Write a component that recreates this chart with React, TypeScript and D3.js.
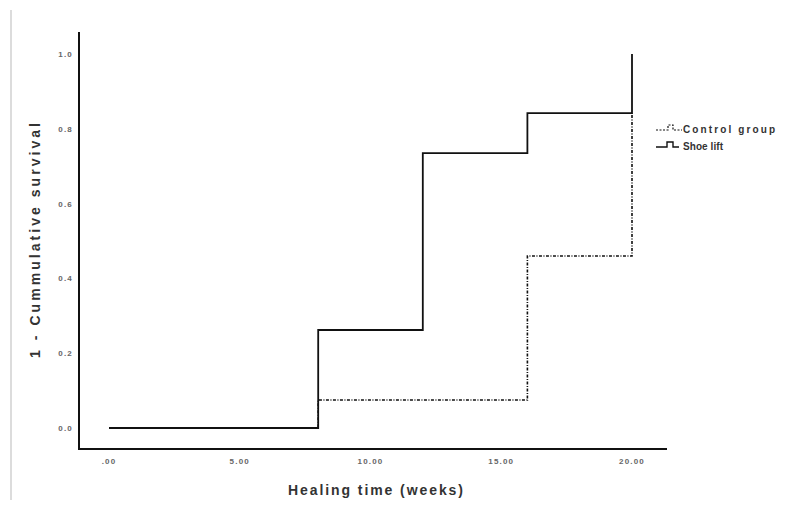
import React from "react";
import * as d3 from "d3";

// healing time in weeks at which each step happens
const shoeTimes = [0, 8, 12, 16, 20];
const shoeValues = [0, 0.262, 0.735, 0.842, 1.0];
const controlTimes = [0, 8, 16, 20];
const controlValues = [0, 0.075, 0.46, 0.842];

const xTicks = [0, 5, 10, 15, 20];
const xTickLabels = [".00", "5.00", "10.00", "15.00", "20.00"];
const yTicks = [0, 0.2, 0.4, 0.6, 0.8, 1.0];
const yTickLabels = ["0.0", "0.2", "0.4", "0.6", "0.8", "1.0"];
const legendLabels = ["Control group", "Shoe lift"];
const legendWidths = [92, 40];

export default function App() {
  const width = 788;
  const height = 505;

  const x = d3.scaleLinear().domain([0, 20]).range([109, 632]);
  const y = d3.scaleLinear().domain([0, 1]).range([428, 54]);

  const line = d3
    .line<[number, number]>()
    .x((d) => x(d[0]))
    .y((d) => y(d[1]))
    .curve(d3.curveStepAfter);

  const shoe = shoeTimes.map((t, i) => [t, shoeValues[i]] as [number, number]);
  const control = controlTimes.map((t, i) => [t, controlValues[i]] as [number, number]);

  const font = "Arial, 'Liberation Sans', sans-serif";

  return (
    <svg
      width={width}
      height={height}
      style={{ position: "absolute", left: 0, top: 0, background: "#fff" }}
      fontFamily={font}
    >
      <line x1={11} x2={11} y1={10} y2={500} stroke="#d0d0d0" strokeWidth={1.5} />

      {/* axes */}
      <path d="M79,32 V449 H667" fill="none" stroke="#111" strokeWidth={2} />

      {yTicks.map((t, i) => (
        <text
          key={"y" + i}
          x={73}
          y={y(t) + 3}
          textAnchor="end"
          fontSize={8}
          fontWeight="bold"
          fill="#666"
          letterSpacing={1.2}
        >
          {yTickLabels[i]}
        </text>
      ))}
      {xTicks.map((t, i) => (
        <text
          key={"x" + i}
          x={x(t)}
          y={464}
          textAnchor="middle"
          fontSize={8}
          fontWeight="bold"
          fill="#666"
          letterSpacing={1.2}
        >
          {xTickLabels[i]}
        </text>
      ))}

      <text
        x={288}
        y={495}
        fontSize={14}
        fontWeight="bold"
        fill="#333"
        textLength={175}
        lengthAdjust="spacing"
      >
        Healing time (weeks)
      </text>
      <text
        transform="translate(40,358) rotate(-90)"
        fontSize={14}
        fontWeight="bold"
        fill="#333"
        textLength={235}
        lengthAdjust="spacing"
      >
        1 - Cummulative survival
      </text>

      <path
        d={line(control) ?? ""}
        fill="none"
        stroke="#111"
        strokeWidth={1.6}
        strokeDasharray="3 1.5 1 1.5"
      />
      <path d={line(shoe) ?? ""} fill="none" stroke="#111" strokeWidth={1.8} />

      {/* legend */}
      <g>
        <path
          d="M656,130 H668 V125 H673 V130 H682"
          fill="none"
          stroke="#111"
          strokeWidth={1.2}
          strokeDasharray="2 1.5"
        />
        <path d="M656,147 H667 V142 H673 V147 H679" fill="none" stroke="#111" strokeWidth={1.4} />
        {legendLabels.map((l, i) => (
          <text
            key={l}
            x={683}
            y={133 + i * 17}
            fontSize={10}
            fontWeight="bold"
            fill="#333"
            textLength={legendWidths[i]}
            lengthAdjust="spacing"
          >
            {l}
          </text>
        ))}
      </g>
    </svg>
  );
}
